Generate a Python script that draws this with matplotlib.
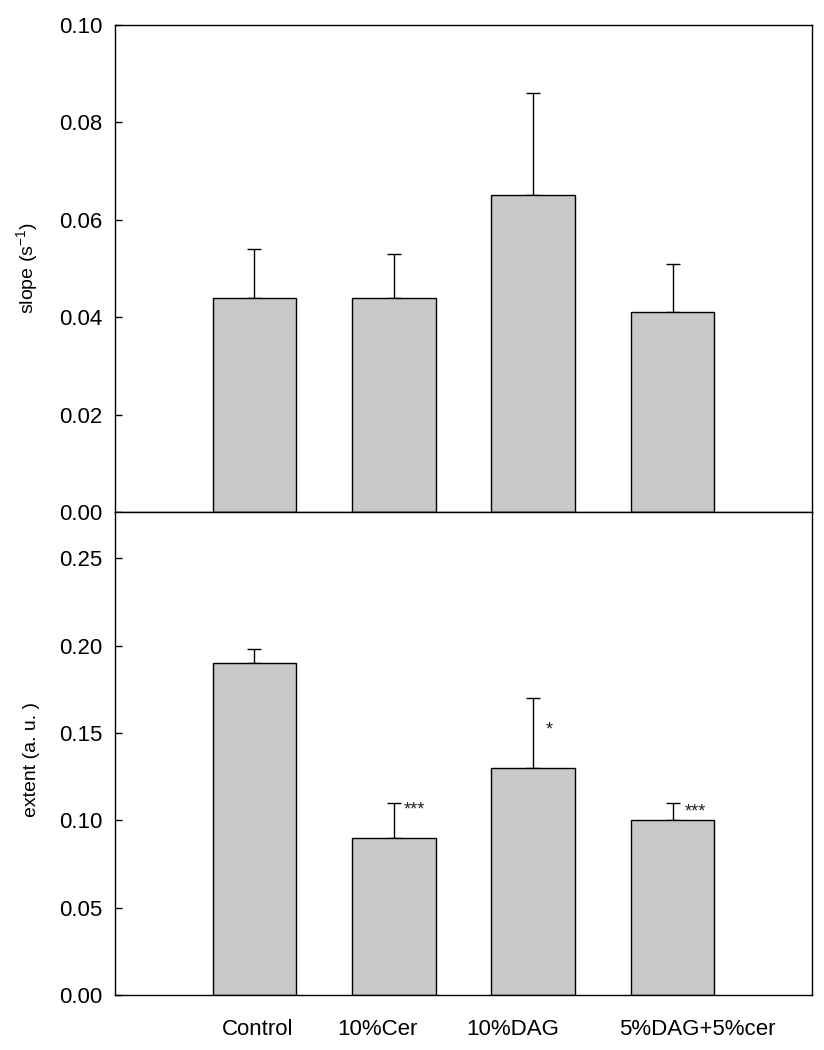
import matplotlib
matplotlib.use("Agg")
import matplotlib.pyplot as plt
import numpy as np

plt.rcParams['font.family'] = ['Liberation Sans', 'DejaVu Sans']
plt.rcParams['mathtext.fontset'] = 'custom'
plt.rcParams['mathtext.rm'] = 'Liberation Sans'
plt.rcParams['mathtext.it'] = 'Liberation Sans:italic'

categories = ["Control", "10%Cer", "10%DAG", "5%DAG+5%cer"]
slope_mean = [0.044, 0.044, 0.065, 0.041]
slope_err = [0.010, 0.009, 0.021, 0.010]
extent_mean = [0.190, 0.090, 0.130, 0.100]
extent_err = [0.008, 0.020, 0.040, 0.010]
extent_sig = ["", "***", "*", "***"]

bar_color = "#c9c7c9"
x = np.arange(len(categories))

fig = plt.figure(figsize=(8.24, 10.5), dpi=100)
L, R = 115 / 824, 812 / 824
ax1 = fig.add_axes([L, 1 - 512 / 1050, R - L, (512 - 25) / 1050])
ax2 = fig.add_axes([L, 1 - 995 / 1050, R - L, (995 - 512) / 1050])


def draw(ax, mean, err):
    ax.bar(x, mean, width=0.6, color=bar_color, edgecolor="black", linewidth=1.0, zorder=2)
    ax.errorbar(x, mean, yerr=[np.zeros(len(err)), err], fmt="none", ecolor="black",
                elinewidth=1.0, capsize=5, capthick=1.0, zorder=1)
    ax.set_xlim(-1, 4)
    for s in ax.spines.values():
        s.set_linewidth(1.0)
    ax.tick_params(axis="y", direction="in", length=5, width=1.0, labelsize=16, pad=9)


draw(ax1, slope_mean, slope_err)
ax1.set_ylim(0, 0.10)
ax1.set_yticks([0.0, 0.02, 0.04, 0.06, 0.08, 0.10])
ax1.set_yticklabels(["0.00", "0.02", "0.04", "0.06", "0.08", "0.10"])
ax1.set_xticks([])
ax1.set_ylabel("slope (s$^{-1}$)", fontsize=14)
ax1.yaxis.set_label_coords(-0.108, 0.5)

draw(ax2, extent_mean, extent_err)
ax2.set_ylim(0, 0.2764)
ax2.set_yticks([0.0, 0.05, 0.10, 0.15, 0.20, 0.25])
ax2.set_yticklabels(["0.00", "0.05", "0.10", "0.15", "0.20", "0.25"])
ax2.set_ylabel("extent (a. u. )", fontsize=14)
ax2.yaxis.set_label_coords(-0.108, 0.487)

label_shift = [0.02, -0.12, -0.15, 0.18]
ax2.set_xticks(x + np.array(label_shift))
ax2.set_xticklabels(categories, fontsize=16)
ax2.tick_params(axis="x", length=0, pad=17)

# significance markers
sig_dx = [0.0, 0.07, 0.09, 0.09]
sig_dy = [0.0, -0.003, -0.017, -0.004]
for i, s in enumerate(extent_sig):
    if s:
        ax2.text(x[i] + sig_dx[i], extent_mean[i] + extent_err[i] + sig_dy[i] - 0.006, s,
                 fontsize=13, ha="left", va="bottom", color="#222222")

fig.savefig("out.png", dpi=100)
